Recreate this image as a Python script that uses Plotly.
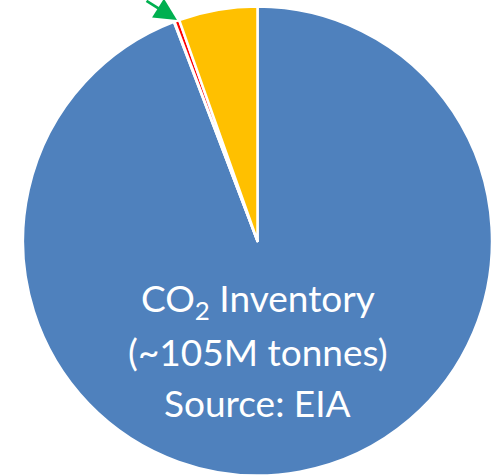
import plotly.graph_objects as go

# slices listed clockwise from 12 o'clock
labels = ["CO2 Inventory", "Green", "Red", "Yellow"]
values = [94.2, 0.05, 0.33, 5.42]
colors = ["#4F81BD", "#00B050", "#FF0000", "#FFC000"]
text_lines = ["CO<sub>2</sub> Inventory", "(~105M tonnes)", "Source: EIA"]

W, H = 497, 476
cx, cy, r = 257.5, 241, 234.5

fig = go.Figure(go.Pie(
    labels=labels, values=values, sort=False, direction="clockwise",
    rotation=0, textinfo="none", hoverinfo="none", showlegend=False,
    marker=dict(colors=colors, line=dict(color="white", width=2.5)),
    domain=dict(x=[(cx - r) / W, (cx + r) / W], y=[(H - cy - r) / H, (H - cy + r) / H]),
))

line_y = [300, 351, 402]
for t, yy in zip(text_lines, line_y):
    fig.add_annotation(text=t, x=cx / W, y=1 - yy / H, xref="paper", yref="paper",
                       showarrow=False, xanchor="center", yanchor="middle",
                       font=dict(family="Lato", size=37, color="white"))

fig.add_annotation(text="", x=177 / W, y=1 - 20 / H, xref="paper", yref="paper",
                   showarrow=True, ax=-32, ay=-29, arrowhead=2, arrowsize=1.6,
                   arrowwidth=2.8, arrowcolor="#00B050", standoff=0)

fig.update_layout(width=W, height=H, margin=dict(l=0, r=0, t=0, b=0),
                  paper_bgcolor="white", plot_bgcolor="white")
fig.write_html("out.html", config={"displayModeBar": False},
               post_script="document.body.style.margin='0px';")
